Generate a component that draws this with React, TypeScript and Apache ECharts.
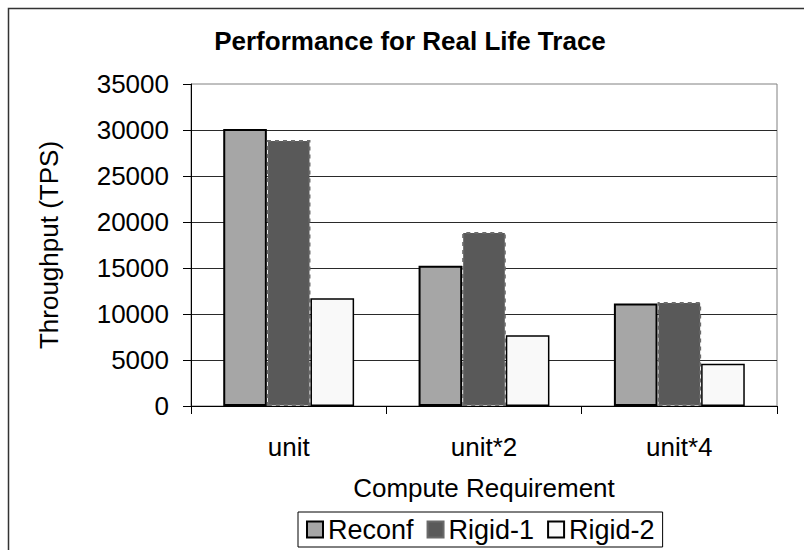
import React, { useEffect, useRef } from "react";
import * as echarts from "echarts";

const categories = ["unit", "unit*2", "unit*4"];
const reconf = [30100, 15250, 11150];
const rigid1 = [28900, 18900, 11300];
const rigid2 = [11700, 7700, 4600];
const yTicks = { min: 0, max: 35000, interval: 5000 };

const FONT = "'Liberation Sans', Arial, sans-serif";

export default function App() {
  const ref = useRef<HTMLDivElement>(null);
  useEffect(() => {
    if (!ref.current) return;
    const chart = echarts.init(ref.current, undefined, { renderer: "svg" });
    chart.setOption({
      animation: false,
      backgroundColor: "#ffffff",
      textStyle: { fontFamily: FONT, color: "#000" },
      graphic: [
        {
          type: "rect",
          shape: { x: 8.5, y: 8.5, width: 820, height: 560 },
          style: { fill: "none", stroke: "#333", lineWidth: 1.5 },
          silent: true,
          z: 100,
        },
        {
          type: "text",
          x: 410,
          y: 41,
          style: {
            text: "Performance for Real Life Trace",
            font: `bold 26px ${FONT}`,
            fill: "#000",
            textAlign: "center",
            textVerticalAlign: "middle",
          },
        },
      ],
      grid: {
        left: 191,
        right: 27,
        top: 84,
        bottom: 144,
        show: true,
        borderColor: "#808080",
        borderWidth: 1,
        backgroundColor: "transparent",
      },
      legend: {
        left: 298,
        top: 512,
        itemWidth: 16,
        itemHeight: 16,
        itemGap: 13,
        padding: [4, 8, 4, 8],
        borderColor: "#000",
        borderWidth: 1,
        icon: "rect",
        textStyle: { fontSize: 27, color: "#000", fontFamily: FONT },
        data: ["Reconf", "Rigid-1", "Rigid-2"],
      },
      xAxis: {
        type: "category",
        data: categories,
        name: "Compute Requirement",
        nameLocation: "middle",
        nameGap: 69,
        nameTextStyle: { fontSize: 26, color: "#000", fontFamily: FONT },
        axisLine: { lineStyle: { color: "#000", width: 1 } },
        axisTick: { show: true, length: 8, lineStyle: { color: "#000" }, alignWithLabel: false },
        axisLabel: { fontSize: 26, color: "#000", margin: 28, fontFamily: FONT },
        splitLine: { show: false },
      },
      yAxis: {
        type: "value",
        min: yTicks.min,
        max: yTicks.max,
        interval: yTicks.interval,
        name: "Throughput (TPS)",
        nameLocation: "middle",
        nameGap: 129,
        nameRotate: 90,
        nameTextStyle: { fontSize: 26, color: "#000", fontFamily: FONT },
        axisLine: { show: true, lineStyle: { color: "#000", width: 1 } },
        axisTick: { show: true, length: 8, lineStyle: { color: "#000" } },
        axisLabel: {
          fontSize: 26,
          color: "#000",
          margin: 22,
          fontFamily: FONT,
          formatter: (v: number) => String(v),
        },
        splitLine: {
          show: true,
          showMinLine: false,
          showMaxLine: false,
          lineStyle: { color: "#2a2a2a", width: 1 },
        },
      },
      series: [
        {
          name: "Reconf",
          type: "bar",
          data: reconf,
          barGap: "0%",
          barCategoryGap: "33%",
          itemStyle: { color: "#a6a6a6", borderColor: "#000", borderWidth: 2 },
        },
        {
          name: "Rigid-1",
          type: "bar",
          data: rigid1,
          barGap: "0%",
          barCategoryGap: "33%",
          itemStyle: {
            color: "#595959",
            borderColor: "#6a6a6a",
            borderWidth: 2,
            borderType: [4, 4],
          },
        },
        {
          name: "Rigid-2",
          type: "bar",
          data: rigid2,
          barGap: "0%",
          barCategoryGap: "33%",
          itemStyle: { color: "#f9f9f9", borderColor: "#000", borderWidth: 1.5 },
        },
      ],
    });
    return () => chart.dispose();
  }, []);
  return (
    <div
      ref={ref}
      style={{ position: "absolute", left: 0, top: 0, width: 804, height: 550 }}
    />
  );
}
